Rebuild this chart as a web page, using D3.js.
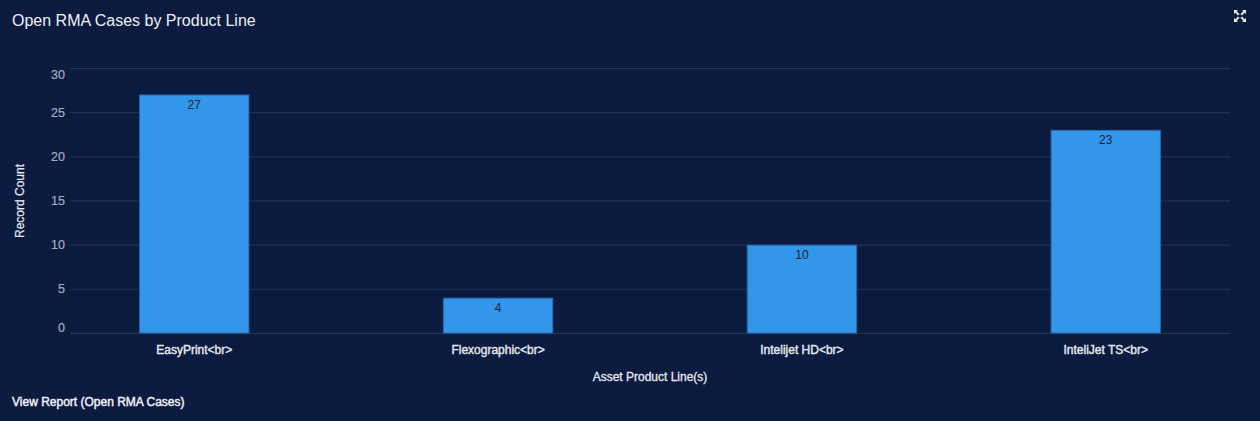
<!DOCTYPE html>
<html><head><meta charset="utf-8">
<script src="https://cdn.jsdelivr.net/npm/d3@7"></script>
<style>
html,body{margin:0;padding:0;background:#0b1b3f;}
svg{display:block;font-family:"Liberation Sans",Arial,sans-serif;}
</style></head>
<body>
<svg id="c" width="1260" height="421"></svg>
<script>
const categories = ["EasyPrint<br>", "Flexographic<br>", "Intelijet HD<br>", "InteliJet TS<br>"];
const values = [27, 4, 10, 23];
const yTicks = [0, 5, 10, 15, 20, 25, 30];
const title = "Open RMA Cases by Product Line";
const xTitle = "Asset Product Line(s)";
const yTitle = "Record Count";
const footer = "View Report (Open RMA Cases)";

const svg = d3.select("#c");
svg.append("rect").attr("width",1260).attr("height",421).attr("fill","#0b1b3f");

const x = d3.scaleBand().domain(categories).range([70,1230]).paddingInner(0.637).paddingOuter(0.2275);
const y = d3.scaleLinear().domain([0,30]).range([333,68]);

// grid
svg.append("g").selectAll("line").data(yTicks).join("line")
  .attr("x1",70).attr("x2",1230)
  .attr("y1",d=>y(d)+0.5).attr("y2",d=>y(d)+0.5)
  .attr("stroke","#26365a").attr("stroke-width",1);

// y tick labels (extremes pulled inward, as in the reference)
svg.append("g").selectAll("text").data(yTicks).join("text")
  .attr("x",65).attr("y",d=>Math.min(Math.max(y(d),74),327)+4.5)
  .attr("text-anchor","end").attr("fill","#a3adc2").attr("font-size",12.5)
  .attr("stroke","#a3adc2").attr("stroke-width",0.2)
  .text(d=>d);

// bars
svg.append("g").selectAll("rect").data(values).join("rect")
  .attr("x",(d,i)=>x(categories[i])+0.5)
  .attr("y",d=>y(d)+0.5)
  .attr("width",x.bandwidth()-1)
  .attr("height",d=>y(0)-y(d)-0.5)
  .attr("fill","#3296ea").attr("stroke","#2a68ad").attr("stroke-width",1);

// value labels
svg.append("g").selectAll("text").data(values).join("text")
  .attr("x",(d,i)=>x(categories[i])+x.bandwidth()/2)
  .attr("y",d=>y(d)+14)
  .attr("text-anchor","middle").attr("fill","#1a1f2e").attr("font-size",12)
  .text(d=>d);

// x labels
svg.append("g").selectAll("text").data(categories).join("text")
  .attr("x",d=>x(d)+x.bandwidth()/2).attr("y",354)
  .attr("text-anchor","middle").attr("fill","#e6e9f0").attr("font-size",12)
  .attr("stroke","#e6e9f0").attr("stroke-width",0.4)
  .text(d=>d);

// axis titles
svg.append("text").attr("x",650).attr("y",381).attr("text-anchor","middle")
  .attr("fill","#e6e9f0").attr("font-size",12)
  .attr("stroke","#e6e9f0").attr("stroke-width",0.3).text(xTitle);
svg.append("text").attr("transform","translate(24,201) rotate(-90)")
  .attr("text-anchor","middle").attr("fill","#e6e9f0").attr("font-size",12)
  .attr("stroke","#e6e9f0").attr("stroke-width",0.2).text(yTitle);

// title
svg.append("text").attr("x",12).attr("y",26).attr("fill","#eef0f5").attr("font-size",16).text(title);

// footer
svg.append("text").attr("x",12).attr("y",406).attr("fill","#eef0f5").attr("font-size",12)
  .attr("stroke","#eef0f5").attr("stroke-width",0.45).text(footer);

// expand icon
const ic = svg.append("g").attr("transform","translate(1240,16)").attr("fill","#eef0f5");
[[-1,-1],[1,-1],[-1,1],[1,1]].forEach(([sx,sy])=>{
  ic.append("path").attr("d",`M${sx*6},${sy*6} L${sx*6},${sy*2} L${sx*2},${sy*6} Z`);
  ic.append("line").attr("x1",sx*4).attr("y1",sy*4).attr("x2",sx*1.2).attr("y2",sy*1.2)
    .attr("stroke","#eef0f5").attr("stroke-width",2);
});
</script>
</body></html>
